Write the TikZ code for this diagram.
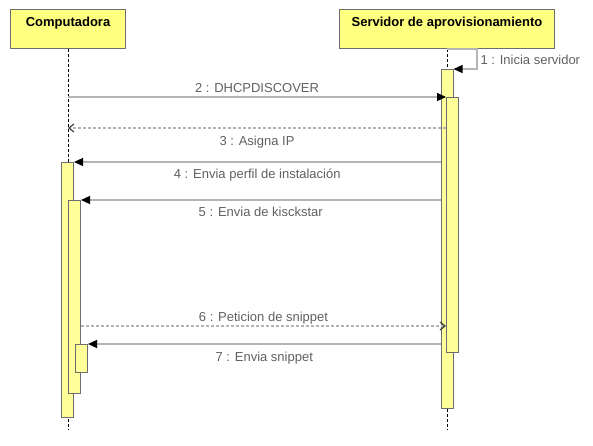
\documentclass[tikz,border=0pt]{standalone}
\usepackage{fontspec}
\setmainfont{Liberation Sans}
\usetikzlibrary{arrows.meta}

\definecolor{headfill}{HTML}{FFFF80}
\definecolor{actfill}{HTML}{FFFF99}
\definecolor{boxline}{HTML}{6E6E6E}
\definecolor{msgline}{HTML}{B4B4B4}
\definecolor{msgtext}{HTML}{606060}

\begin{document}
\begin{tikzpicture}[x=1pt,y=-1pt,
  head/.style={draw=boxline,line width=1pt,fill=headfill,anchor=north,minimum height=39pt,
    inner sep=0pt,text height=9.5pt,text depth=15pt,font=\fontsize{13}{15}\selectfont\bfseries},
  act/.style={draw=boxline,line width=1pt,fill=actfill,anchor=north,minimum width=12pt,inner sep=0pt},
  lifeline/.style={line width=1pt,dash pattern=on 3pt off 2pt},
  msg/.style={draw=msgline,line width=1.2pt,-{Triangle[length=9pt,width=8pt,color=black]}},
  reply/.style={draw=msgline,line width=1.2pt,dash pattern=on 3pt off 2pt,
    -{Straight Barb[length=5pt,width=8pt,color=black!75]}},
  txt/.style={text=msgtext,inner sep=1pt,text height=9.5pt,text depth=2.5pt,font=\fontsize{13}{15}\selectfont}]
  \useasboundingbox (0,0) rectangle (593,445);

  % participants and lifelines
  \node[head,minimum width=115pt] (comp) at (68,9) {Computadora};
  \node[head,minimum width=215pt] (serv) at (447,9) {Servidor de aprovisionamiento};
  \coordinate (compend) at (68,430);
  \coordinate (servend) at (447,430);
  \draw[lifeline] (comp.south) -- (compend);
  \draw[lifeline] (serv.south) -- (servend);

  % activations
  \node[act,minimum height=339pt] (sa1) at (447,69) {};
  \node[act,minimum height=255pt] (sa2) at (452.5,97) {};
  \node[act,minimum height=255pt] (ca1) at (67.5,162) {};
  \node[act,minimum height=193pt] (ca2) at (74.5,200) {};
  \node[act,minimum height=28pt] (ca3) at (81.5,344) {};

  % messages
  \draw[msg] (serv.south) -- ++(30,0) |- (sa1.north east)
    node[txt,pos=0.25,right,xshift=2pt,yshift=-2pt] {1 : Inicia servidor};
  \draw[msg] (comp.south |- sa2.north west) -- (sa2.north west)
    node[txt,midway,above] {2 : DHCPDISCOVER};
  \draw[reply] (sa2.west |- 0,128) -- (comp.south |- 0,128)
    node[txt,midway,below=6.5pt] {3 : Asigna IP};
  \draw[msg] (sa1.west |- ca1.north east) -- (ca1.north east)
    node[txt,midway,below=5.5pt] {4 : Envia perfil de instalación};
  \draw[msg] (sa1.west |- ca2.north east) -- (ca2.north east)
    node[txt,midway,below=5.5pt] {5 : Envia de kisckstar};
  \draw[reply] (ca2.east |- 0,326) -- (sa2.west |- 0,326)
    node[txt,midway,above] {6 : Peticion de snippet};
  \draw[msg] (sa1.west |- ca3.north east) -- (ca3.north east)
    node[txt,midway,below=6pt] {7 : Envia snippet};
\end{tikzpicture}
\end{document}
